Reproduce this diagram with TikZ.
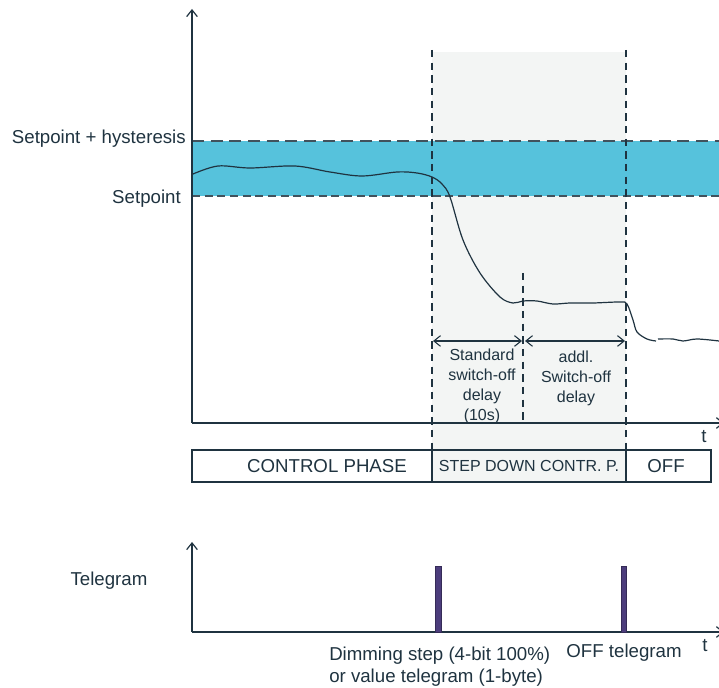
\documentclass[tikz,border=0pt]{standalone}
\usepackage{fontspec}
\setmainfont{Liberation Sans}
\usetikzlibrary{arrows.meta}
\definecolor{bandblue}{HTML}{56C2DC}
\definecolor{phasegray}{HTML}{F3F5F4}
\definecolor{ink}{HTML}{1F3340}
\definecolor{barviolet}{HTML}{4C3D7C}

\begin{document}
\begin{tikzpicture}[
  x=0.75pt, y=-0.75pt,
  >={Straight Barb[length=5pt,width=8pt]},
  every node/.style={text=ink, inner sep=0pt},
  lbl/.style={font=\fontsize{14}{17}\selectfont},
  delay/.style={font=\fontsize{12}{15}\selectfont, align=center},
  axis/.style={draw=ink, line width=0.9pt},
  guide/.style={draw=ink, line width=0.8pt, dash pattern=on 5.5pt off 4pt},
  limit/.style={draw=ink!85, line width=0.8pt, dash pattern=on 9pt off 5pt},
  cell/.style={draw=ink, line width=0.8pt},
  bar/.style={fill=barviolet, draw=barviolet!70!black, line width=0.4pt}
]
\useasboundingbox (0,0) rectangle (719,688);

% upper diagram
\fill[phasegray] (432,52) rectangle (626,482);
\fill[bandblue] (192,141) rectangle (719,196);
\draw[limit] (192,141) -- (719,141);
\draw[limit, dash pattern=on 6pt off 3.5pt] (192,196) -- (719,196);

\coordinate (o1) at (192,423);
\coordinate (y1) at (192,9);
\coordinate (x1) at (724,423);
\draw[axis, ->] (o1) -- (y1);
\draw[axis, ->] (o1) -- (x1);

\coordinate (s1) at (432,50);
\coordinate (s2) at (432,450);
\coordinate (e1) at (626,50);
\coordinate (e2) at (626,450);
\coordinate (m1) at (523,273);
\coordinate (m2) at (523,421);
\draw[guide] (s1) -- (s2);
\draw[guide] (e1) -- (e2);
\draw[guide] (m1) -- (m2);

% measured value
\draw[ink, line width=0.9pt] plot[smooth, tension=0.55] coordinates {
  (193,174) (218,166) (250,168) (295,166) (330,172) (362,176) (397,172)
  (417,173) (432,177) (442,184) (450,197) (463,240) (480,273) (500,297)
  (513,303) (523,301) (537,301) (553,304) (570,303) (593,303) (620,302)
  (627,304) (633,320) (637,332) (647,339) (656,341)};
\draw[ink, line width=0.9pt] plot[smooth, tension=0.55] coordinates {
  (658,339) (673,339) (683,341) (697,339) (719,341)};

\node[lbl, anchor=east] (hyst) at (186,139) {Setpoint + hysteresis};
\node[lbl, anchor=east] (setp) at (181,199) {Setpoint};

\coordinate (d1) at (433,341);
\coordinate (d2) at (522,341);
\coordinate (d3) at (525,341);
\coordinate (d4) at (625,341);
\draw[ink, line width=0.8pt, <->] (d1) -- (d2);
\draw[ink, line width=0.8pt, <->] (d3) -- (d4);

\node[delay] (std) at (482,386) {Standard\\switch-off\\delay\\(10s)};
\node[delay] (addl) at (576,378) {addl.\\Switch-off\\delay};
\node[lbl] (t1) at (704,437) {t};

% phases
\draw[cell] (192,450) rectangle (711,482);
\draw[cell] (432,450) -- (432,482);
\draw[cell] (626,450) -- (626,482);
\node[lbl] (ctrl) at (327,466) {CONTROL PHASE};
\node[font=\fontsize{12}{14}\selectfont] (stepdn) at (529,466) {STEP DOWN CONTR. P.};
\node[lbl] (off) at (666,466) {OFF};

% telegrams
\coordinate (o2) at (192,632);
\coordinate (y2) at (192,542);
\coordinate (x2) at (724,632);
\draw[axis, ->] (o2) -- (y2);
\draw[axis, ->] (o2) -- (x2);
\draw[bar] (435,566) rectangle (441,632);
\draw[bar] (621,566) rectangle (626,632);

\node[lbl] (tele) at (109,581) {Telegram};
\node[lbl, anchor=west, align=left, font=\fontsize{14}{16.5}\selectfont] (dim) at (329,667)
  {Dimming step (4-bit 100\%)\\or value telegram (1-byte)};
\node[lbl] (offtel) at (624,653) {OFF telegram};
\node[lbl] (t2) at (705,646) {t};
\end{tikzpicture}
\end{document}
